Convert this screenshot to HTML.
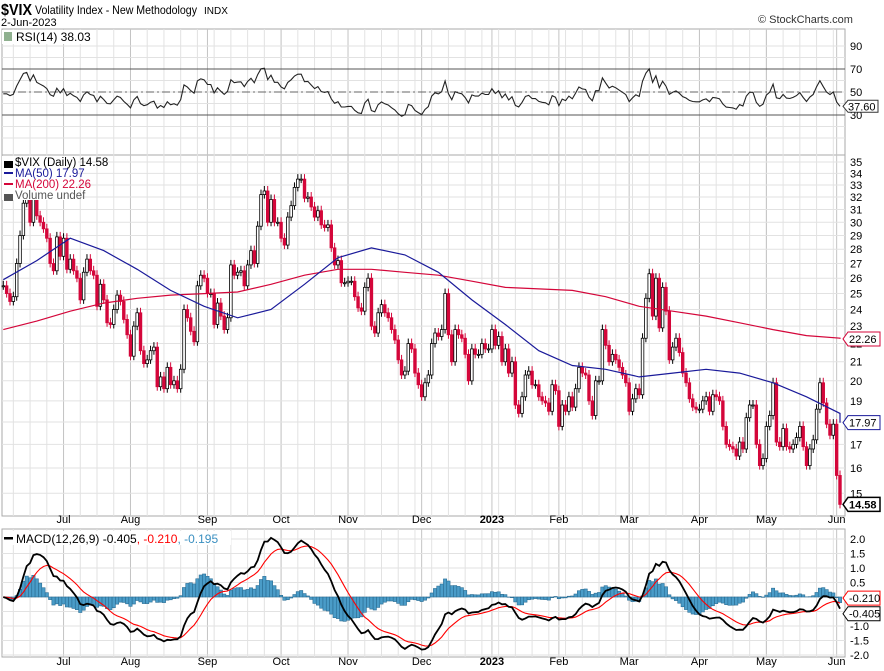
<!DOCTYPE html>
<html><head><meta charset="utf-8"><style>
body{margin:0;background:#fff;}
svg{display:block;font-family:"Liberation Sans",Arial,sans-serif;}
</style></head><body>
<svg id="c" width="884" height="671" viewBox="0 0 884 671"></svg>
<script>
const closes=[25.5,25,24.5,24.8,27,29,31.5,32,30,32.5,30.5,30,29.5,28.8,27,26.5,28.9,27.5,28.8,26.6,27.3,26.5,26,24.6,26.4,27.3,26.5,26.2,24.2,25.6,24.6,23.2,23.1,24,24.9,24.5,23.4,22.5,21.3,23,23.8,21.6,20.9,21.1,21.6,21.8,19.7,20.2,19.6,20.7,19.8,20,19.6,20.6,24,23.5,22.7,22.1,25.5,26.2,26,25,25,23.1,
24.4,23.6,22.8,23.5,26.9,26.2,26.4,26.5,25.5,26.9,27.9,27,29.7,32.2,32.5,30,31.8,30,30,28.8,28.3,30.4,31.3,32.8,33.5,33.5,31.9,32,31.2,30.4,30.9,29.8,29.6,29.8,28.1,26.9,27.2,25.7,25.7,25.8,25.8,24.8,24.1,23.9,25.4,26,23,22.6,23.8,24.3,23.8,23.5,22.8,22.2,21.1,20.3,20.5,22,21.7,20.4,19.8,19.2,
19.9,20.3,22,22.6,22.4,22.8,25,22.5,21,22.8,22.5,22.3,21.4,20,21.7,21.4,21.4,22,21.7,21.7,22.8,21.9,22.4,21,21.7,20.4,21,18.8,18.4,19.2,20.3,20.5,19.8,19.8,19.2,19,18.9,18.5,19.8,19.5,17.8,18.8,18.5,19.2,18.7,19.6,20.7,20.4,20.3,19,18.3,20,20,22.8,21.9,21,21.4,21.1,20.7,20.3,19.9,18.5,19.1,
19.6,19.3,22.3,24.7,26.3,23.6,26,22.9,25.4,23.9,21.1,21.8,22.3,21.5,20.4,19.9,19.1,18.7,18.6,18.6,19,19.2,18.5,19.3,19.2,19,17.8,17,16.9,16.8,16.5,17.1,16.8,18.2,18.8,18.8,17,16.1,16.4,17.8,18.3,19.9,17.1,16.9,17.7,16.9,16.8,17,17.3,17.8,16.9,16.1,16.8,17.2,18.6,19.9,18.9,17.9,17.4,17.9,15.7,14.58];
const ma50=[25.9,27.2,28.8,27.9,26.6,25.2,24.2,23.5,24.0,25.6,27.4,28.1,27.6,26.4,24.6,23.1,21.6,20.8,20.6,20.2,20.4,20.6,20.4,19.9,19.2,18.4,17.97];
const ma200=[22.8,23.3,23.9,24.4,24.7,24.9,25,25.1,25.6,26.2,26.6,26.6,26.4,26.2,25.8,25.4,25.3,25.2,24.8,24.2,23.9,23.6,23.2,22.8,22.45,22.3,22.26];
const priceTicks=[15,16,17,18,19,20,21,22,23,24,25,26,27,28,29,30,31,32,33,34,35];
const rsiTicks=[90,70,50,30];
const macdTicks=[2.0,1.5,1.0,0.5,0.0,-0.5,-1.0,-1.5,-2.0];
const monthLabels=["Jul","Aug","Sep","Oct","Nov","Dec","2023","Feb","Mar","Apr","May","Jun"];
const monthIdx=[18,38,61,83,103,125,146,166,187,208,228,249];

const S=document.getElementById('c');const NS='http://www.w3.org/2000/svg';
function el(t,a,p){const e=document.createElementNS(NS,t);for(const k in a)e.setAttribute(k,a[k]);(p||S).appendChild(e);return e;}
const n=closes.length,X0=3.3,X1=840;
const xs=i=>X0+i*(X1-X0)/(n-1);
const py=p=>162+Math.log(35/p)*391;
const ry=v=>69+(70-v)*1.15;
const my=v=>597-v*29;
const L=2,R=845;

[[29,155],[155,516],[529,657]].forEach(([t,b],k)=>{const r=el('rect',{x:L,y:t,width:R-L,height:b-t,fill:'#fff',stroke:'#aaa','stroke-width':1});
});
const g=el('g',{});
for(let i=3;i<n;i+=5){const x=xs(i);[[29,155],[155,516],[529,657]].forEach(([t,b])=>el('line',{x1:x,x2:x,y1:t,y2:b,stroke:'#e2e2e2'},g));}
monthIdx.forEach(i=>{const x=xs(i);[[29,155],[155,516],[529,657]].forEach(([t,b])=>el('line',{x1:x,x2:x,y1:t,y2:b,stroke:'#c4c4c4'},g));});
for(let v=10;v<100;v+=10){el('line',{x1:L,x2:R,y1:ry(v),y2:ry(v),stroke:'#e2e2e2'},g);}
priceTicks.forEach(p=>el('line',{x1:L,x2:R,y1:py(p),y2:py(p),stroke:'#e2e2e2'},g));
for(let v=-2;v<=2.01;v+=0.5)el('line',{x1:L,x2:R,y1:my(v),y2:my(v),stroke:'#e2e2e2'},g);

let t=el('text',{x:1,y:15,'font-size':16,'font-weight':'bold',textLength:31,lengthAdjust:'spacingAndGlyphs'});t.textContent='$VIX';
t=el('text',{x:35,y:14,'font-size':12,textLength:162,lengthAdjust:'spacingAndGlyphs'});t.textContent='Volatility Index - New Methodology';
t=el('text',{x:204,y:14,'font-size':10});t.textContent='INDX';
t=el('text',{x:1,y:26,'font-size':11});t.textContent='2-Jun-2023';
t=el('text',{x:758,y:23,'font-size':11,fill:'#333'});t.textContent='© StockCharts.com';

const rsi=[];let ag=0.6,al=0.6;
for(let i=1;i<n;i++){const d=closes[i]-closes[i-1];const gn=Math.max(d,0),ls=Math.max(-d,0);
 ag=(ag*13+gn)/14;al=(al*13+ls)/14;
 rsi[i]=al===0?100:100-100/(1+ag/al);}
rsi[0]=rsi[1];
[70,30].forEach(v=>el('line',{x1:L,x2:R,y1:ry(v),y2:ry(v),stroke:'#555'}));
el('line',{x1:L,x2:R,y1:ry(50),y2:ry(50),stroke:'#666','stroke-dasharray':'8,3,2,3'});
let pts=rsi.map((v,i)=>xs(i).toFixed(1)+','+ry(v).toFixed(1)).join(' ');
let pl=el('polyline',{points:pts,fill:'none',stroke:'#222','stroke-width':1.1});
rsiTicks.forEach(v=>{const tt=el('text',{x:850,y:ry(v)+4,'font-size':11});tt.textContent=v;});
el('rect',{x:2,y:30,width:80,height:14,fill:'#fff'});
el('rect',{x:4,y:32,width:8,height:9,fill:'#8fb08f'});
t=el('text',{x:16,y:41,'font-size':12});t.textContent='RSI(14) 38.03';
const lastR=rsi[n-1];
el('path',{d:`M843 ${ry(lastR)} l5 -6 h30 v12 h-30 z`,fill:'#fff',stroke:'#333'});
t=el('text',{x:848,y:ry(lastR)+4,'font-size':11});t.textContent=lastR.toFixed(2);

const cg=el('g',{});
for(let i=0;i<n;i++){const c=closes[i],o=i?closes[i-1]:c;const x=xs(i);const up=c>=o;const col=up?'#000':'#d4063a';
 const yt=py(Math.max(o,c)),yb=py(Math.min(o,c));
 el('line',{x1:x,x2:x,y1:yt-5,y2:yb+4,stroke:col,'stroke-width':1},cg);
 const b=el('rect',{x:x-1.3,y:yt,width:2.6,height:Math.max(yb-yt,1),fill:up?'#fff':col,stroke:col,'stroke-width':0.8},cg);
 }
function maPts(a){return a.map((v,k)=>{const i=k<a.length-1?k*10:n-1;return xs(i).toFixed(1)+','+py(v).toFixed(1);}).join(' ');}
pl=el('polyline',{points:maPts(ma200),fill:'none',stroke:'#d4063a','stroke-width':1.2});
pl=el('polyline',{points:maPts(ma50),fill:'none',stroke:'#1a1a9a','stroke-width':1.2});
priceTicks.forEach(p=>{const tt=el('text',{x:850,y:py(p)+4,'font-size':11});tt.textContent=p;});
el('rect',{x:2,y:156,width:76,height:44,fill:'#fff'});
[['$VIX (Daily) 14.58','#000','price-legend'],['MA(50) 17.97','#1a1a9a','ma50-legend'],['MA(200) 22.26','#d4063a','ma200-legend'],['Volume undef','#555','volume-legend']].forEach((a,k)=>{
 const tt=el('text',{x:15,y:166+k*11,'font-size':11.5,fill:a[1]});tt.textContent=a[0];
 el('rect',{x:4,y:161+k*11,width:9,height:k==0||k==3?7:2,fill:a[1]});});
function box(v,col,bold,name,yy){const y=yy;el('path',{d:`M843 ${y} l5 -7 h32 v14 h-32 z`,fill:'#fff',stroke:col,'stroke-width':bold?1.5:1});
 const tt=el('text',{x:849,y:y+4,'font-size':11,fill:'#000','font-weight':bold?'bold':'normal'});tt.textContent=v;}
box(ma200[ma200.length-1].toFixed(2),'#d4063a',false,'ma200-value-label',py(ma200[ma200.length-1]));
box(ma50[ma50.length-1].toFixed(2),'#1a1a9a',false,'ma50-value-label',py(ma50[ma50.length-1]));
box(closes[n-1].toFixed(2),'#000',true,'last-price-label',py(closes[n-1]));

monthLabels.forEach((m,k)=>{const x=xs(monthIdx[k]);[523,665].forEach(y=>{const tt=el('text',{x:x,y:y,'font-size':11,'text-anchor':'middle','font-weight':m=='2023'?'bold':'normal'});tt.textContent=m;});});

function ema(arr,p){const k=2/(p+1);const o=[];arr.forEach((v,i)=>o.push(i?v*k+o[i-1]*(1-k):v));return o;}
const e12=ema(closes,12),e26=ema(closes,26);const macd=e12.map((v,i)=>v-e26[i]);const sig=ema(macd,9);
const hg=el('g',{});
for(let i=0;i<n;i++){const h=macd[i]-sig[i];const y0=my(0),y1=my(h);
 const r=el('rect',{x:xs(i)-1.65,y:Math.min(y0,y1),width:3.3,height:Math.abs(y1-y0),fill:'#4a9cc8',stroke:'#2a6d94','stroke-width':0.6},hg);
 }
pl=el('polyline',{points:sig.map((v,i)=>xs(i).toFixed(1)+','+my(v).toFixed(1)).join(' '),fill:'none',stroke:'#f00','stroke-width':1.1});
pl=el('polyline',{points:macd.map((v,i)=>xs(i).toFixed(1)+','+my(v).toFixed(1)).join(' '),fill:'none',stroke:'#000','stroke-width':1.8});
macdTicks.forEach(v=>{const tt=el('text',{x:850,y:my(v)+4,'font-size':11});tt.textContent=v.toFixed(1);});
el('rect',{x:3,y:531,width:228,height:14,fill:'#fff'});
el('rect',{x:4,y:537,width:9,height:2.5,fill:'#000'});
const mt=el('text',{x:16,y:543,'font-size':12});
[['MACD(12,26,9) '+macd[n-1].toFixed(3),'#000'],[', '+sig[n-1].toFixed(3),'#f00'],[', '+(macd[n-1]-sig[n-1]).toFixed(3),'#3a8fc0']].forEach(a=>{const s=el('tspan',{fill:a[1]},mt);s.textContent=a[0];});
box(sig[n-1].toFixed(3),'#f00',false,'macd-signal-value',my(sig[n-1])-5);
box(macd[n-1].toFixed(3),'#000',false,'macd-value',my(macd[n-1])+5);
</script>
</body></html>
